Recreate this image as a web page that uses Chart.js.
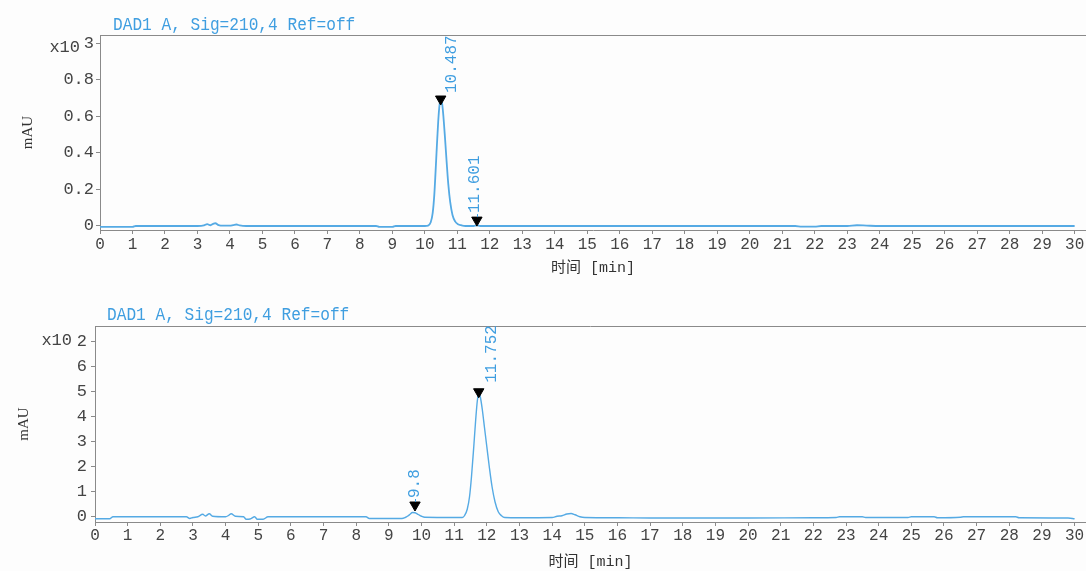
<!DOCTYPE html>
<html><head><meta charset="utf-8">
<script src="https://cdn.jsdelivr.net/npm/chart.js@4/dist/chart.umd.min.js"></script>
<style>
html,body{margin:0;padding:0;background:#fdfdfd;}
#wrap{position:relative;width:1086px;height:571px;overflow:hidden;background:#fdfdfd}
canvas{position:absolute;left:0}
</style></head><body>
<div id="wrap">
<canvas id="c1" width="1086" height="285" style="top:0px"></canvas>
<canvas id="c2" width="1086" height="286" style="top:285px"></canvas>
</div>
<script>
// ---------- text ----------
const titleText = "DAD1 A, Sig=210,4 Ref=off";
const xAxisTitle = "时间 [min]";
const yAxisTitle = "mAU";
const exponentText = "x10";

// ---------- x ticks (min) ----------
const xTickValues = [0,1,2,3,4,5,6,7,8,9,10,11,12,13,14,15,16,17,18,19,20,21,22,23,24,25,26,27,28,29,30];
const xTickLabels = ["0","1","2","3","4","5","6","7","8","9","10","11","12","13","14","15","16","17","18","19","20","21","22","23","24","25","26","27","28","29","30"];

// ---------- top chromatogram (x10^3 mAU) ----------
const topYTickValues = [0, 0.2, 0.4, 0.6, 0.8, 1.0];
const topYTickLabels = ["0", "0.2", "0.4", "0.6", "0.8", "3"];
const topTime = [0, 0.5, 1.0, 1.1, 2.0, 3.0, 3.2, 3.3, 3.4, 3.5, 3.55, 3.65, 3.8, 4.0, 4.1, 4.2, 4.3, 4.5, 5.0, 6.0, 7.0, 8.0, 8.5, 8.6, 9.0, 9.1, 9.5, 10.0,
  10.1, 10.18, 10.24, 10.29, 10.33, 10.37, 10.41, 10.45, 10.49, 10.53, 10.57, 10.62, 10.67, 10.72, 10.78, 10.85, 10.93, 11.02, 11.12, 11.25,
  11.5, 11.6, 11.7, 12, 14, 16, 18, 20, 21.4, 21.6, 22.0, 22.2, 23.0, 23.3, 23.6, 24, 26, 28, 30];
const topSignal = [-0.005, -0.005, -0.005, 0, 0, 0, 0.003, 0.01, 0.004, 0.013, 0.015, 0.005, 0.002, 0.002, 0.005, 0.008, 0.003, 0, 0, 0, 0, 0, 0, -0.005, -0.005, 0, 0, 0,
  0.002, 0.02, 0.07, 0.17, 0.3, 0.44, 0.57, 0.66, 0.69, 0.67, 0.6, 0.48, 0.35, 0.23, 0.13, 0.06, 0.025, 0.01, 0.004, 0,
  0, 0.003, 0, 0, 0, 0, 0, 0, 0, -0.004, -0.004, 0, 0, 0.004, 0.002, 0, 0, 0, 0];
const topPeakRT = [10.487, 11.601];
const topPeakMark = [0.694, 0.032];
const topPeakLabels = ["10.487", "11.601"];

// ---------- bottom chromatogram (x10^2 mAU) ----------
const botYTickValues = [0, 1, 2, 3, 4, 5, 6, 7];
const botYTickLabels = ["0", "1", "2", "3", "4", "5", "6", "2"];
const botTime = [0, 0.45, 0.55, 2.8, 2.9, 3.0, 3.15, 3.3, 3.38, 3.5, 3.6, 4.0, 4.1, 4.17, 4.3, 4.55, 4.63, 4.75, 4.89, 4.97, 5.15, 5.3, 8.3, 8.4, 9.4,
  9.5, 9.58, 9.65, 9.72, 9.8, 9.9, 10.0, 10.1, 11.0, 11.25, 11.32, 11.4, 11.47, 11.53, 11.6, 11.66, 11.71, 11.755, 11.8, 11.86, 11.93, 12.0, 12.08,
  12.16, 12.25, 12.35, 12.45, 12.55, 13.0, 14.0, 14.15, 14.3, 14.45, 14.58, 14.7, 14.85, 15.0, 16, 17, 18, 20, 22, 22.7, 22.8, 23.5, 23.6, 24.9,
  25.0, 25.7, 25.8, 26.5, 26.6, 28.2, 28.3, 29.8, 30];
const botSignal = [-0.08, -0.08, 0, 0, -0.07, -0.03, 0, 0.1, 0.03, 0.12, 0.02, 0, 0.06, 0.12, 0.02, 0, -0.1, -0.09, 0, -0.1, -0.1, 0, 0, -0.07, -0.07,
  -0.03, 0.03, 0.1, 0.17, 0.16, 0.09, 0.02, -0.02, -0.03, -0.03, 0.05, 0.3, 0.8, 1.6, 2.8, 3.9, 4.65, 4.96, 4.8, 4.3, 3.55, 2.8, 1.95,
  1.2, 0.6, 0.2, 0.04, -0.03, -0.04, -0.03, 0.02, 0.04, 0.11, 0.13, 0.08, 0, -0.03, -0.04, -0.05, -0.05, -0.05, -0.04, -0.03, 0, 0, -0.03, -0.03,
  0, 0, -0.04, -0.02, 0, 0, -0.04, -0.05, -0.08];
const botPeakRT = [9.8, 11.752];
const botPeakMark = [0.47, 5.0];
const botPeakLabels = ["9.8", "11.752"];

// ---------- styles ----------
const LINE_BLUE = '#55aae4';
const TEXT_BLUE = '#3f9ee0';
const TICK_COLOR = '#444';
const AXIS_COLOR = '#8a8a8a';
const MONO = '"Liberation Mono", "DejaVu Sans Mono", monospace';

function pts(t, v) { return t.map((x, i) => ({x: x, y: v[i]})); }

const decor = {
  id: 'decor',
  afterDatasetsDraw(chart, args, o) {
    const ctx = chart.ctx, a = chart.chartArea, xs = chart.scales.x, ys = chart.scales.y;
    ctx.save();
    // top frame line
    ctx.strokeStyle = AXIS_COLOR; ctx.lineWidth = 1;
    ctx.beginPath(); ctx.moveTo(a.left, Math.round(a.top) + 0.5); ctx.lineTo(a.right, Math.round(a.top) + 0.5); ctx.stroke();
    // title (condensed monospace)
    ctx.save();
    ctx.translate(o.titleX, o.titleY); ctx.scale(0.85, 1);
    ctx.fillStyle = TEXT_BLUE; ctx.font = '19px ' + MONO; ctx.textAlign = 'left'; ctx.textBaseline = 'alphabetic';
    ctx.fillText(titleText, 0, 0);
    ctx.restore();
    // exponent prefix
    ctx.fillStyle = TICK_COLOR; ctx.font = '17px ' + MONO; ctx.textAlign = 'right'; ctx.textBaseline = 'middle';
    ctx.fillText(exponentText, o.expX, o.expY);
    // peak labels
    ctx.beginPath(); ctx.rect(a.left, a.top, a.right - a.left, a.bottom - a.top); ctx.clip();
    ctx.fillStyle = TEXT_BLUE; ctx.strokeStyle = TEXT_BLUE; ctx.font = '16px ' + MONO;
    o.rt.forEach((rt, i) => {
      const px = xs.getPixelForValue(rt), py = ys.getPixelForValue(o.mark[i]);
      const cx = px + o.dx[i], sy = py - o.dy[i];
      if (o.conn[i]) {
        ctx.lineWidth = 1;
        ctx.beginPath(); ctx.moveTo(Math.round(px) + 0.5, py - 3); ctx.lineTo(Math.round(px) + 0.5, sy - 1); ctx.stroke();
      }
      ctx.save(); ctx.translate(cx, sy - (o.conn[i] ? 2 : 0)); ctx.rotate(-Math.PI / 2);
      ctx.textAlign = 'left'; ctx.textBaseline = 'middle';
      ctx.fillText(o.labels[i], 0, 0);
      ctx.restore();
    });
    ctx.restore();
  }
};

function makeChart(id, cfg) {
  return new Chart(document.getElementById(id), {
    type: 'line',
    data: {
      datasets: [
        { type: 'line', data: pts(cfg.time, cfg.signal), borderColor: LINE_BLUE, borderWidth: cfg.lw,
          pointRadius: 0, cubicInterpolationMode: 'monotone', fill: false, order: 2 },
        { type: 'scatter', data: pts(cfg.peakRT, cfg.peakMark), pointStyle: 'triangle', rotation: 180,
          pointRadius: 6, pointHoverRadius: 6, backgroundColor: '#000', borderColor: '#000', borderWidth: 1, order: 1, clip: false }
      ]
    },
    options: {
      responsive: false, animation: false, events: [],
      layout: { autoPadding: false, padding: { top: cfg.padTop, left: 0, right: 0, bottom: 0 } },
      plugins: { legend: { display: false }, tooltip: { enabled: false }, title: { display: false },
        decor: { titleX: cfg.titleX, titleY: cfg.titleY, expX: cfg.expX, expY: cfg.expY,
          rt: cfg.peakRT, mark: cfg.peakMark, labels: cfg.peakLabels, dx: cfg.dx, dy: cfg.dy, conn: cfg.conn } },
      scales: {
        x: {
          type: 'linear', min: 0, max: 30.35,
          afterBuildTicks: s => { s.ticks = xTickValues.map(v => ({value: v})); },
          afterFit: s => { s.height = cfg.xH; s.paddingLeft = 0; s.paddingRight = 0; },
          ticks: { autoSkip: false, maxRotation: 0, color: TICK_COLOR, font: { family: MONO, size: 16 }, padding: cfg.xPad,
            callback: (v) => { const i = xTickValues.indexOf(v); return i >= 0 ? xTickLabels[i] : ''; } },
          grid: { drawOnChartArea: false, drawTicks: true, tickLength: 4, color: AXIS_COLOR },
          border: { display: true, color: AXIS_COLOR },
          title: { display: true, text: xAxisTitle, color: '#333', font: { family: MONO + ', "Noto Sans CJK SC"', size: 15 },
            padding: { top: 0, bottom: cfg.xTitlePad } }
        },
        y: {
          type: 'linear', min: cfg.yMin, max: cfg.yMax,
          afterBuildTicks: s => { s.ticks = cfg.yTicks.map(v => ({value: v})); },
          afterFit: s => { s.width = cfg.yW; s.paddingTop = 0; s.paddingBottom = 0; },
          ticks: { color: TICK_COLOR, font: { family: MONO, size: 17 }, padding: cfg.yPad,
            callback: (v) => { const i = cfg.yTicks.indexOf(v); return i >= 0 ? cfg.yLabels[i] : ''; } },
          grid: { drawOnChartArea: false, drawTicks: true, tickLength: 4, color: AXIS_COLOR },
          border: { display: true, color: AXIS_COLOR },
          title: { display: true, text: yAxisTitle, color: '#333', font: { family: '"Liberation Serif", serif', size: 15 },
            padding: { top: cfg.yTitlePad, bottom: 0 } }
        }
      }
    },
    plugins: [decor]
  });
}

makeChart('c1', {
  time: topTime, signal: topSignal, peakRT: topPeakRT, peakMark: topPeakMark, peakLabels: topPeakLabels,
  yTicks: topYTickValues, yLabels: topYTickLabels, yMin: -0.022, yMax: 1.044, lw: 1.8,
  padTop: 35, xH: 55, yW: 100, xPad: 1, yPad: 2, xTitlePad: 8, yTitlePad: 19,
  titleX: 113, titleY: 30, expX: 80, expY: 47,
  dx: [11, -2], dy: [6, 5], conn: [false, true]
});
makeChart('c2', {
  time: botTime, signal: botSignal, peakRT: botPeakRT, peakMark: botPeakMark, peakLabels: botPeakLabels,
  yTicks: botYTickValues, yLabels: botYTickLabels, yMin: -0.21, yMax: 7.63, lw: 1.4,
  padTop: 41, xH: 49, yW: 95, xPad: 0, yPad: 4, xTitlePad: 0, yTitlePad: 15,
  titleX: 107, titleY: 35, expX: 72, expY: 55,
  dx: [0, 13], dy: [5, 9], conn: [true, false]
});
</script>
</body></html>
